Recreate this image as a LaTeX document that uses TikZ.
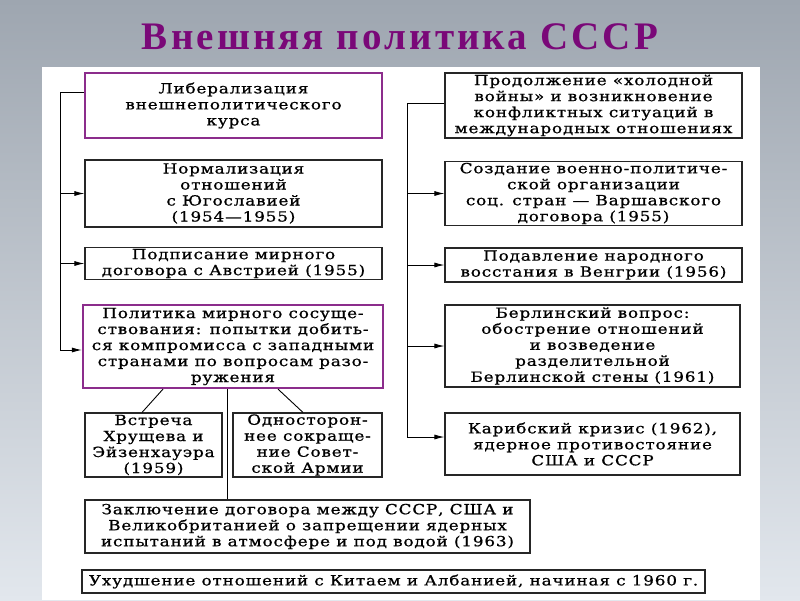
\documentclass[tikz,border=0pt]{standalone}
\usepackage{fontspec}
\setmainfont{Liberation Serif}
\newfontfamily\boxfont{DejaVu Serif}[LetterSpace=6,FakeStretch=1.2,FakeBold=0.8]
\newfontfamily\titlefont{Liberation Serif}[LetterSpace=8]
\usetikzlibrary{arrows.meta,positioning,calc}
\definecolor{titlepurple}{RGB}{122,8,120}
\definecolor{boxpurple}{RGB}{140,45,140}
\tikzstyle{box}=[draw=black!85,line width=1.1pt,align=center,inner sep=1pt,font=\boxfont\fontsize{14}{16}\selectfont]
\tikzstyle{pbox}=[box,draw=boxpurple,line width=2.2pt]
\tikzstyle{arr}=[-{Latex[length=10pt,width=5pt]},line width=0.9pt]

\begin{document}
\begin{tikzpicture}[x=1pt,y=-1pt]
    \useasboundingbox (0,0) rectangle (800,600);
    \shade[top color={rgb,255:red,158;green,166;blue,176},bottom color={rgb,255:red,226;green,231;blue,237}] (0,0) rectangle (800,600);
    \fill[white] (42,67) rectangle (760,600);
    \node[font=\titlefont\bfseries\fontsize{39}{44}\selectfont,text=titlepurple] (t) at (400,37) {Внешняя политика СССР};

    \node[pbox,minimum width=297pt,minimum height=65pt] (l1) at (233.5,105.5) {Либерализация\\внешнеполитического\\курса};
    \node[box,minimum width=297pt,minimum height=67pt] (l2) at (233.5,193.5) {Нормализация\\отношений\\с Югославией\\(1954—1955)};
    \node[box,minimum width=297pt,minimum height=31pt] (l3) at (233.5,263.5) {Подписание мирного\\договора с Австрией (1955)};
    \node[pbox,minimum width=300pt,minimum height=83pt] (l4) at (233,346.5) {Политика мирного сосуще-\\ствования: попытки добить-\\ся компромисса с западными\\странами по вопросам разо-\\ружения};
    \node[box,minimum width=137pt,minimum height=64pt] (l5) at (153.5,445) {Встреча\\Хрущева и\\Эйзенхауэра\\(1959)};
    \node[box,minimum width=149pt,minimum height=64pt] (l6) at (307.5,445) {Односторон-\\нее сокраще-\\ние Совет-\\ской Армии};
    \node[box,minimum width=445pt,minimum height=53pt] (b1) at (307.5,526.5) {Заключение договора между СССР, США и\\Великобританией о запрещении ядерных\\испытаний в атмосфере и под водой (1963)};
    \node[box,minimum width=623pt,minimum height=23pt] (b2) at (393.5,581.5) {Ухудшение отношений с Китаем и Албанией, начиная с 1960 г.};

    \node[box,minimum width=297pt,minimum height=65pt] (r1) at (593.5,105.5) {Продолжение «холодной\\войны» и возникновение\\конфликтных ситуаций в\\международных отношениях};
    \node[box,minimum width=297pt,minimum height=63pt] (r2) at (593.5,193.5) {Создание военно-политиче-\\ской организации\\соц. стран — Варшавского\\договора (1955)};
    \node[box,minimum width=297pt,minimum height=34pt] (r3) at (593.5,265) {Подавление народного\\восстания в Венгрии (1956)};
    \node[box,minimum width=295pt,minimum height=82pt] (r4) at (592.5,346) {Берлинский вопрос:\\обострение отношений\\и возведение\\разделительной\\Берлинской стены (1961)};
    \node[box,minimum width=295pt,minimum height=62pt] (r5) at (592.5,444) {Карибский кризис (1962),\\ядерное противостояние\\США и СССР};

    \draw[arr] ([yshift=13.5pt]l1.west) -- ++(-23,0) coordinate (tl) |- ([yshift=-3.5pt]l4.west);
    \draw[arr] (tl |- l2.west) -- (l2.west);
    \draw[arr] (tl |- l3.west) -- (l3.west);
    \draw[arr] ([yshift=2.5pt]r1.west) -- ++(-37,0) coordinate (tr) |- ([yshift=7pt]r5.west);
    \draw[arr] (tr |- r2.west) -- (r2.west);
    \draw[arr] (tr |- r3.west) -- (r3.west);
    \draw[arr] (tr |- r4.west) -- (r4.west);
    \draw[line width=0.9pt] ([xshift=-70pt]l4.south) -- ([xshift=-11.5pt]l5.north);
    \draw[line width=0.9pt] ([xshift=45pt]l4.south) -- ([xshift=-4.5pt]l6.north);
    \draw[line width=0.9pt] ([xshift=-6pt]l4.south) -- ([xshift=-6pt]l4.south |- b1.north);
\end{tikzpicture}
\end{document}
